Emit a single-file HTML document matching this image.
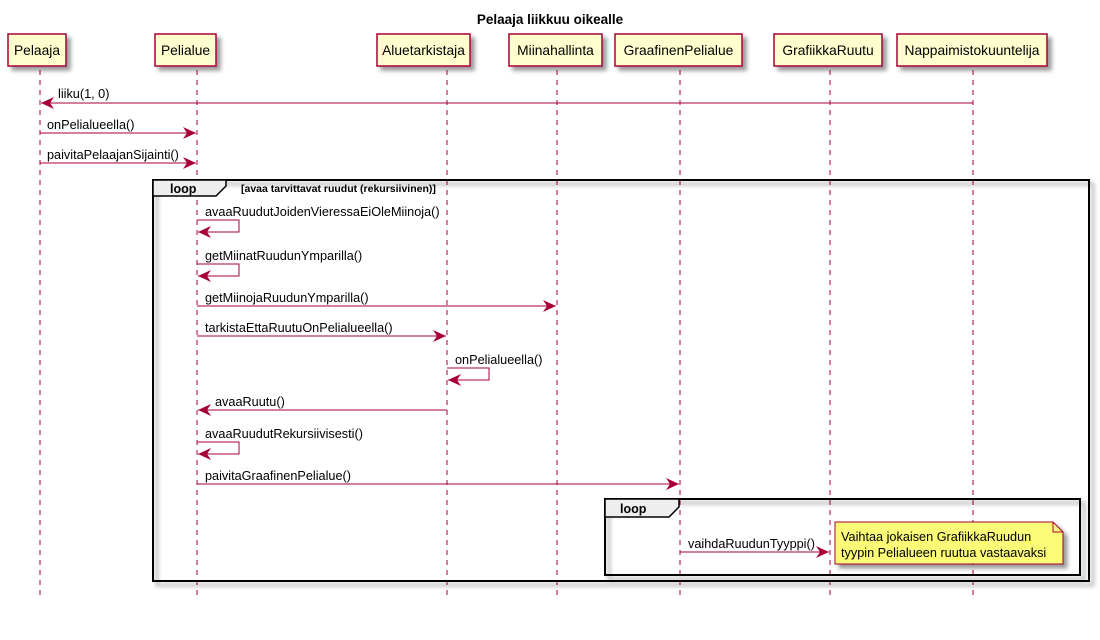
<!DOCTYPE html>
<html><head><meta charset="utf-8"><style>
html,body{margin:0;padding:0;background:#fff;}
svg{display:block;}
text{font-family:"Liberation Sans",Arial,sans-serif;}
</style></head><body>
<svg width="1100" height="640" viewBox="0 0 1100 640" xmlns="http://www.w3.org/2000/svg">
<defs>
<filter id="sh" x="-10%" y="-10%" width="130%" height="140%"><feOffset dx="4" dy="4" in="SourceAlpha" result="o"/><feGaussianBlur in="o" stdDeviation="2" result="b"/><feColorMatrix in="b" type="matrix" values="0 0 0 0 0 0 0 0 0 0 0 0 0 0 0 0 0 0 0.4 0"/><feMerge><feMergeNode/><feMergeNode in="SourceGraphic"/></feMerge></filter>
</defs>
<text x="550" y="24" font-size="13.5" font-weight="bold" text-anchor="middle">Pelaaja liikkuu oikealle</text>

<g stroke="#A80036" stroke-width="1" stroke-dasharray="5,5">
<line x1="40" y1="70" x2="40" y2="596"/>
<line x1="197" y1="70" x2="197" y2="596"/>
<line x1="447" y1="70" x2="447" y2="596"/>
<line x1="557" y1="70" x2="557" y2="596"/>
<line x1="680" y1="70" x2="680" y2="596"/>
<line x1="830" y1="70" x2="830" y2="596"/>
<line x1="973" y1="70" x2="973" y2="596"/>
</g>

<g fill="#FEFECE" stroke="#A80036" stroke-width="1.5" filter="url(#sh)">
<rect x="8" y="34" width="58" height="32"/>
<rect x="155" y="34" width="61" height="32"/>
<rect x="377" y="34" width="93" height="32"/>
<rect x="509" y="34" width="93" height="32"/>
<rect x="615" y="34" width="127" height="32"/>
<rect x="774" y="34" width="108" height="32"/>
<rect x="897" y="34" width="150" height="32"/>
</g>
<g font-size="13.8" text-anchor="middle" fill="#000">
<text x="37" y="55">Pelaaja</text>
<text x="185.5" y="55">Pelialue</text>
<text x="423.5" y="55">Aluetarkistaja</text>
<text x="555.5" y="55">Miinahallinta</text>
<text x="678.5" y="55">GraafinenPelialue</text>
<text x="828" y="55">GrafiikkaRuutu</text>
<text x="972" y="55">Nappaimistokuuntelija</text>
</g>

<g filter="url(#sh)">
<rect x="153" y="180" width="936" height="401" fill="none" stroke="#000" stroke-width="2"/>
</g>
<path d="M153,180 L226,180 L226,186 L216,196 L153,196 Z" fill="#EEEEEE" stroke="#000" stroke-width="1.5"/>
<text x="170" y="193" font-size="12.5" font-weight="bold">loop</text>
<text x="241" y="192" font-size="10.5" font-weight="bold">[avaa tarvittavat ruudut (rekursiivinen)]</text>

<g filter="url(#sh)">
<rect x="605" y="499" width="475" height="76" fill="none" stroke="#000" stroke-width="2"/>
</g>
<path d="M605,499 L679,499 L679,507 L669,517 L605,517 Z" fill="#EEEEEE" stroke="#000" stroke-width="1.5"/>
<text x="620" y="513" font-size="12.5" font-weight="bold">loop</text>

<g stroke="#A80036" stroke-width="1" fill="none">
<line x1="973" y1="103" x2="41" y2="103"/>
<line x1="40" y1="133" x2="196" y2="133"/>
<line x1="40" y1="163" x2="196" y2="163"/>
<polyline points="197,220 239,220 239,232 198,232"/>
<polyline points="197,264 239,264 239,276 198,276"/>
<line x1="197" y1="306" x2="556" y2="306"/>
<line x1="197" y1="336" x2="446" y2="336"/>
<polyline points="447,368 489,368 489,380 448,380"/>
<line x1="447" y1="410" x2="198" y2="410"/>
<polyline points="197,442 239,442 239,454 198,454"/>
<line x1="197" y1="484" x2="679" y2="484"/>
<line x1="680" y1="552" x2="829" y2="552"/>
</g>
<g fill="#A80036">
<path d="M41,103 l13,-6 l-4,6 l4,6z"/>
<path d="M196,133 l-13,-6 l4,6 l-4,6z"/>
<path d="M196,163 l-13,-6 l4,6 l-4,6z"/>
<path d="M198,232 l13,-6 l-4,6 l4,6z"/>
<path d="M198,276 l13,-6 l-4,6 l4,6z"/>
<path d="M556,306 l-13,-6 l4,6 l-4,6z"/>
<path d="M446,336 l-13,-6 l4,6 l-4,6z"/>
<path d="M448,380 l13,-6 l-4,6 l4,6z"/>
<path d="M198,410 l13,-6 l-4,6 l4,6z"/>
<path d="M198,454 l13,-6 l-4,6 l4,6z"/>
<path d="M679,484 l-13,-6 l4,6 l-4,6z"/>
<path d="M829,552 l-13,-6 l4,6 l-4,6z"/>
</g>
<g font-size="12.7" fill="#000">
<text x="58" y="98">liiku(1, 0)</text>
<text x="47" y="129">onPelialueella()</text>
<text x="47" y="159">paivitaPelaajanSijainti()</text>
<text x="205" y="216">avaaRuudutJoidenVieressaEiOleMiinoja()</text>
<text x="205" y="260">getMiinatRuudunYmparilla()</text>
<text x="205" y="302">getMiinojaRuudunYmparilla()</text>
<text x="205" y="332">tarkistaEttaRuutuOnPelialueella()</text>
<text x="455" y="364">onPelialueella()</text>
<text x="215" y="406">avaaRuutu()</text>
<text x="205" y="438">avaaRuudutRekursiivisesti()</text>
<text x="205" y="480">paivitaGraafinenPelialue()</text>
<text x="688" y="548">vaihdaRuudunTyyppi()</text>
</g>

<g filter="url(#sh)">
<path d="M835,522 L1053,522 L1063,532 L1063,564 L835,564 Z" fill="#FBFB77" stroke="#A80036" stroke-width="1"/>
</g>
<path d="M1053,522 L1053,532 L1063,532" fill="none" stroke="#A80036" stroke-width="1"/>
<g font-size="12.7" fill="#000">
<text x="841" y="541">Vaihtaa jokaisen GrafiikkaRuudun</text>
<text x="841" y="557">tyypin Pelialueen ruutua vastaavaksi</text>
</g>
</svg>
</body></html>
